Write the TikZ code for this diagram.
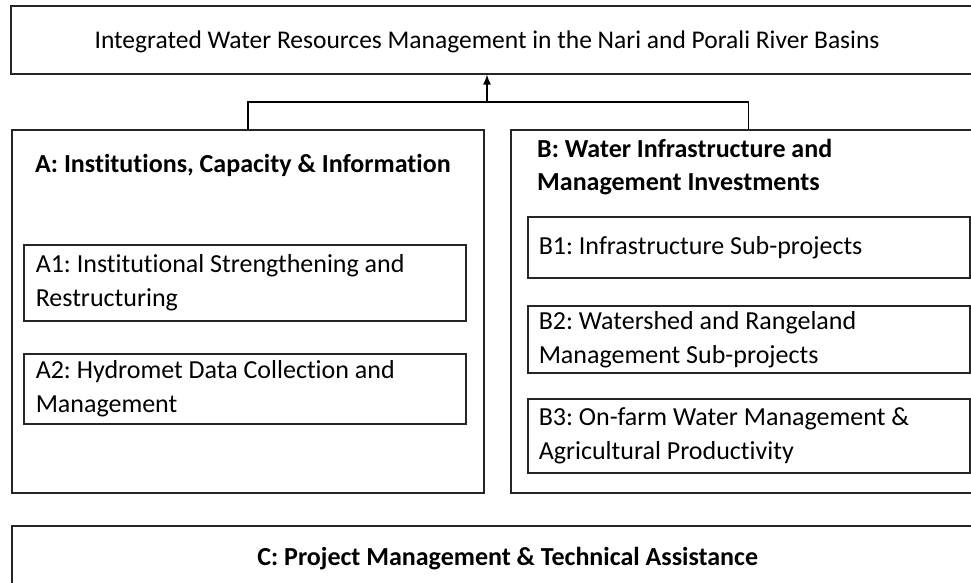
\documentclass[tikz,border=0pt]{standalone}
\usepackage{fontspec}
\setmainfont{Carlito}[Ligatures=NoCommon]
\frenchspacing
\usetikzlibrary{positioning, arrows.meta}

\begin{document}
\begin{tikzpicture}[x=1pt, y=-1pt, font=\fontsize{26}{34}\selectfont,
    box/.style={rectangle, draw=black!85, line width=1.5pt, anchor=north west, inner xsep=11pt, inner ysep=0pt, align=flush left},
    head/.style={inner sep=0pt, align=flush left, font=\fontsize{26}{33}\selectfont\bfseries}]
    \useasboundingbox (0,0) rectangle (971,582);

    % Nodes
    \node (goal) [box, minimum width=975pt, minimum height=68pt] at (10,5) {};
    \node (goaltext) [inner sep=0pt, anchor=base, font=\fontsize{25.5}{34}\selectfont] at (487,48) {Integrated Water Resources Management in the Nari and Porali River Basins};
    \node (compA) [box, text width=450pt, minimum height=363pt] at (11,129) {};
    \node (compB) [box, text width=453pt, minimum height=363pt] at (510,129) {};
    \node (headA) [head, anchor=base west] at (35,172) {A: Institutions, Capacity \& Information};
    \node (headB) [head, anchor=base west, text width=420pt] at (537,157) {B: Water Infrastructure and\\Management Investments};
    \node (a1) [box, inner xsep=12pt, text width=418pt, minimum height=76pt] at (23,244) {A1: Institutional Strengthening and\\Restructuring};
    \node (a2) [box, inner xsep=12pt, text width=418pt, minimum height=70pt] at (23,353) {A2: Hydromet Data Collection and\\Management};
    \node (b1) [box, text width=420pt, minimum height=61pt] at (527,216) {B1: Infrastructure Sub-projects};
    \node (b2) [box, text width=420pt, minimum height=67pt] at (527,305) {B2: Watershed and Rangeland\\Management Sub-projects};
    \node (b3) [box, text width=420pt, minimum height=74pt] at (527,398) {B3: On-farm Water Management \&\\Agricultural Productivity};
    \node (compC) [box, align=flush center, text width=970pt, minimum height=66pt, font=\fontsize{26}{34}\selectfont\bfseries] at (11,525) {C: Project Management \& Technical Assistance};

    % Arrows
    \coordinate (join) at (goaltext |- 0,102);
    \draw[line width=1.5pt] (compA.north) |- (join) -| (compB.north);
    \draw[line width=1.5pt, -{Latex[length=10pt, width=8pt]}] (join) -- (join |- goal.south);
\end{tikzpicture}
\end{document}
